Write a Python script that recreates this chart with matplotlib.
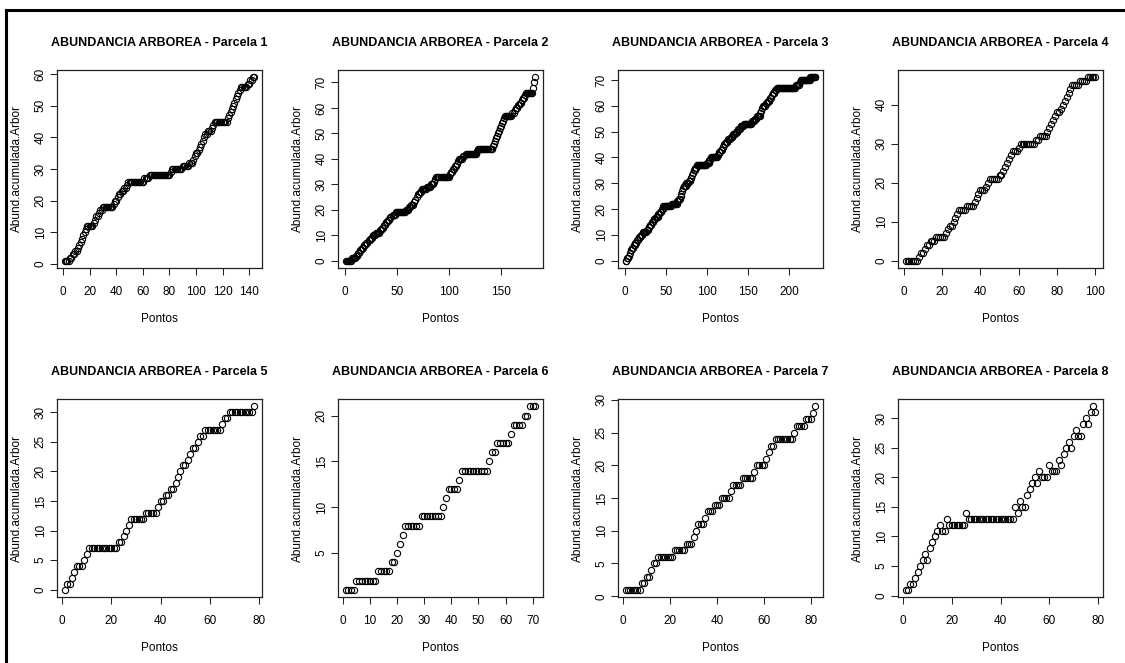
import numpy as np
import matplotlib
matplotlib.use("Agg")
import matplotlib.pyplot as plt
from matplotlib.lines import Line2D

plt.rcParams["font.family"] = ["Liberation Sans", "DejaVu Sans"]

# ============================================
# Data: cumulative tree abundance per sampling point, one list per plot
# ============================================

parcela_1 = [1, 1, 1, 1, 2, 2, 3, 3, 4, 4, 5, 6, 7, 8, 9, 10, 11, 12, 12, 12,
             12, 12, 13, 14, 15, 15, 16, 17, 17, 18, 18, 18, 18, 18, 18, 18, 18, 19, 20, 20,
             21, 22, 22, 23, 23, 24, 24, 25, 26, 26, 26, 26, 26, 26, 26, 26, 26, 26, 26, 26,
             27, 27, 27, 27, 28, 28, 28, 28, 28, 28, 28, 28, 28, 28, 28, 28, 28, 28, 28, 28,
             29, 30, 30, 30, 30, 30, 30, 30, 30, 31, 31, 31, 31, 31, 32, 32, 32, 33, 34, 35,
             35, 36, 37, 38, 39, 40, 41, 41, 42, 42, 42, 43, 44, 45, 45, 45, 45, 45, 45, 45,
             45, 45, 45, 46, 47, 48, 49, 50, 51, 52, 53, 54, 55, 56, 56, 56, 56, 56, 57, 57,
             58, 58, 59, 59]

parcela_2 = [0, 0, 0, 0, 0, 0, 1, 1, 1, 1,
             2, 2, 3, 3, 4, 4, 5, 5, 6,
             6, 7, 7, 8, 8, 9, 9, 10, 10, 10,
             11, 11, 11, 11, 12, 12, 13, 13, 14,
             14, 15, 15, 16, 16, 17, 17, 18, 18, 18, 19,
             19, 19, 19, 19, 19, 19, 19, 19, 19,
             20, 20, 20, 21, 21, 22,
             22, 22, 23, 24, 25, 26,
             26, 27, 27, 28, 28, 28, 28,
             28, 29, 29, 29, 29, 30, 30, 30, 31, 32, 33,
             33, 33, 33, 33, 33, 33, 33, 33, 33, 33, 33, 33,
             34, 35, 35, 36, 36, 37, 37,
             38, 39, 40, 40, 40, 40, 41, 41, 42, 42,
             42, 42, 42, 42, 42, 42, 42, 42, 42,
             43,
             44, 44, 44, 44, 44, 44, 44, 44, 44, 44, 44, 44, 44, 44,
             45, 46, 47, 48, 49, 50, 51, 52, 53, 54, 55, 56, 57,
             57, 57, 57, 57, 57, 57,
             58, 58, 59, 60,
             60, 61, 61, 62, 62, 63, 64, 64, 65,
             66, 66, 66, 66, 66, 66, 66,
             68, 70, 72]

parcela_3 = [0, 0, 1,
             1, 2, 3, 4, 4, 5, 5,
             6, 6, 7, 7, 8, 8, 9, 9, 9, 10,
             10, 11, 11, 11, 11, 11, 12, 12,
             13, 13, 14, 14, 15, 15, 16, 16, 16, 17, 17, 17,
             18, 18, 19, 19, 20, 20, 21,
             21, 21, 21, 21, 21, 21, 21, 21, 21,
             22, 22, 22, 22, 22, 22, 22,
             23, 23, 24, 24, 25, 26, 27, 28, 29,
             29, 29, 30, 30, 30, 31, 31, 32, 32, 33,
             34, 35, 35, 36, 36, 37,
             37, 37, 37, 37, 37, 37, 37, 37, 37, 37, 37,
             38, 38, 38, 39, 39, 40, 40, 40, 40, 40,
             40, 40, 40, 41, 41, 42, 42, 43,
             43, 44, 44, 45, 45, 46, 46, 46, 47, 47, 47, 48, 48,
             48, 49, 49, 49, 50, 50, 50, 51, 51, 51, 52, 52, 52, 52, 53, 53, 53, 53, 53,
             53, 53, 53, 53, 53, 54, 54, 54, 55, 55, 55,
             56, 56, 56, 56, 57, 58, 59, 60, 60, 60,
             60, 61, 61, 62, 62, 62, 63, 63, 64, 65,
             65, 65, 66, 66, 67, 67, 67, 67,
             67, 67, 67, 67, 67, 67, 67, 67, 67, 67, 67, 67, 67, 67, 67, 67, 67, 67, 67,
             68, 68, 68, 68, 68,
             69, 70, 70, 70, 70, 70, 70,
             70, 70, 70, 70, 70, 70,
             71, 71, 71, 71, 71, 71, 71]

parcela_4 = [0, 0, 0, 0, 0, 0, 0, 1, 2, 2,
             3, 4, 4, 5, 5, 5, 6, 6, 6, 6,
             6, 7, 8, 9, 9, 10, 11, 12, 13, 13,
             13, 13, 14, 14, 14, 14, 15, 16, 17, 18,
             18, 18, 19, 20, 21, 21, 21, 21, 21, 22,
             22, 23, 24, 25, 26, 27, 28, 28, 28, 29,
             30, 30, 30, 30, 30, 30, 30, 30, 31, 31,
             32, 32, 32, 32, 33, 34, 35, 36, 37, 38,
             38, 39, 40, 41, 42, 43, 44, 45, 45, 45,
             45, 46, 46, 46, 46, 47, 47, 47, 47, 47]

parcela_5 = [0, 1, 1, 2, 3, 4, 4, 4, 5, 6,
             7, 7, 7, 7, 7, 7, 7, 7, 7, 7,
             7, 7, 8, 8, 9, 10, 11, 12, 12, 12,
             12, 12, 12, 13, 13, 13, 13, 13, 14, 15,
             15, 16, 16, 17, 17, 18, 19, 20, 21, 21,
             22, 23, 24, 24, 25, 26, 26, 27, 27, 27,
             27, 27, 27, 27, 28, 29, 29, 30, 30, 30,
             30, 30, 30, 30, 30, 30, 30, 31]

parcela_6 = [1, 1, 1, 1, 2, 2, 2, 2, 2, 2,
             2, 2, 3, 3, 3, 3, 3, 4, 4, 5,
             6, 7, 8, 8, 8, 8, 8, 8, 9, 9,
             9, 9, 9, 9, 9, 9, 10, 11, 12, 12,
             12, 12, 13, 14, 14, 14, 14, 14, 14, 14,
             14, 14, 14, 15, 16, 16, 17, 17, 17, 17,
             17, 18, 19, 19, 19, 19, 20, 20, 21, 21,
             21]

parcela_7 = [1, 1, 1, 1, 1, 1, 1, 2, 2, 3,
             3, 4, 5, 5, 6, 6, 6, 6, 6, 6,
             6, 7, 7, 7, 7, 7, 8, 8, 8, 9,
             10, 11, 11, 11, 12, 13, 13, 13, 14, 14,
             14, 15, 15, 15, 15, 16, 17, 17, 17, 17,
             18, 18, 18, 18, 18, 19, 20, 20, 20, 20,
             21, 22, 23, 23, 24, 24, 24, 24, 24, 24,
             24, 24, 25, 26, 26, 26, 26, 27, 27, 27,
             28, 29]

parcela_8 = [1, 1, 2, 2, 3, 4, 5, 6, 7, 6,
             8, 9, 10, 11, 12, 11, 11, 13, 12, 12,
             12, 12, 12, 12, 12, 14, 13, 13, 13, 13,
             13, 13, 13, 13, 13, 13, 13, 13, 13, 13,
             13, 13, 13, 13, 13, 15, 14, 16, 15, 15,
             17, 18, 19, 20, 19, 21, 20, 20, 20, 22,
             21, 21, 21, 23, 22, 24, 25, 26, 25, 27,
             28, 27, 27, 29, 30, 29, 31, 32, 31]

PARCELAS = [parcela_1, parcela_2, parcela_3, parcela_4,
            parcela_5, parcela_6, parcela_7, parcela_8]
TITLES = [f"ABUNDANCIA ARBOREA - Parcela {i}" for i in range(1, 9)]

X_TICKS = [
    [0, 20, 40, 60, 80, 100, 120, 140],
    [0, 50, 100, 150],
    [0, 50, 100, 150, 200],
    [0, 20, 40, 60, 80, 100],
    [0, 20, 40, 60, 80],
    [0, 10, 20, 30, 40, 50, 60, 70],
    [0, 20, 40, 60, 80],
    [0, 20, 40, 60, 80],
]
Y_TICKS = [
    [0, 10, 20, 30, 40, 50, 60],
    [0, 10, 20, 30, 40, 50, 60, 70],
    [0, 10, 20, 30, 40, 50, 60, 70],
    [0, 10, 20, 30, 40],
    [0, 5, 10, 15, 20, 25, 30],
    [5, 10, 15, 20],
    [0, 5, 10, 15, 20, 25, 30],
    [0, 5, 10, 15, 20, 25, 30],
]

# ============================================
# Layout (pixel boxes of each panel, 1125 x 663 canvas)
# ============================================

W, H = 1125, 663
COL_LEFT = [57, 338, 618, 898]
ROW_TOP = [70, 399]
BOX_W, BOX_H = 205, 198

fig = plt.figure(figsize=(W / 100, H / 100), dpi=100)
fig.patch.set_facecolor("white")

for i, (y, title) in enumerate(zip(PARCELAS, TITLES)):
    r, c = divmod(i, 4)
    left = COL_LEFT[c] / W
    bottom = 1 - (ROW_TOP[r] + BOX_H) / H
    ax = fig.add_axes([left, bottom, BOX_W / W, BOX_H / H])

    x = np.arange(1, len(y) + 1)
    ax.plot(x, y, linestyle="none", marker="o", markersize=4.5,
            markerfacecolor="none", markeredgecolor="black", markeredgewidth=0.8)
    ax.margins(0.04)

    ax.set_xticks(X_TICKS[i])
    ax.set_yticks(Y_TICKS[i])
    ax.tick_params(axis="both", direction="out", length=5, width=0.75,
                   labelsize=8.5, color="#222222")
    ax.tick_params(axis="x", pad=8)
    ax.tick_params(axis="y", pad=2.5, labelrotation=90)
    for lab in ax.get_yticklabels():
        lab.set_verticalalignment("center")

    for s in ax.spines.values():
        s.set_linewidth(0.9)
        s.set_color("#222222")

    ax.set_title(title, fontsize=9, fontweight="bold", pad=17)
    ax.set_xlabel("Pontos", fontsize=8.5)
    ax.set_ylabel("Abund.acumulada.Arbor", fontsize=8.5)
    ax.xaxis.set_label_coords(0.5, -0.258)
    ax.xaxis.label.set_verticalalignment("center")
    ax.yaxis.set_label_coords(-0.195, 0.5)
    ax.yaxis.label.set_verticalalignment("center")

# outer frame (top and left edges visible in the screenshot)
fig.add_artist(Line2D([6 / W, 1], [1 - 10 / H, 1 - 10 / H], color="black", linewidth=2.2))
fig.add_artist(Line2D([6 / W, 6 / W], [0, 1 - 10 / H], color="black", linewidth=2.2))

fig.savefig("out.png", dpi=100)
